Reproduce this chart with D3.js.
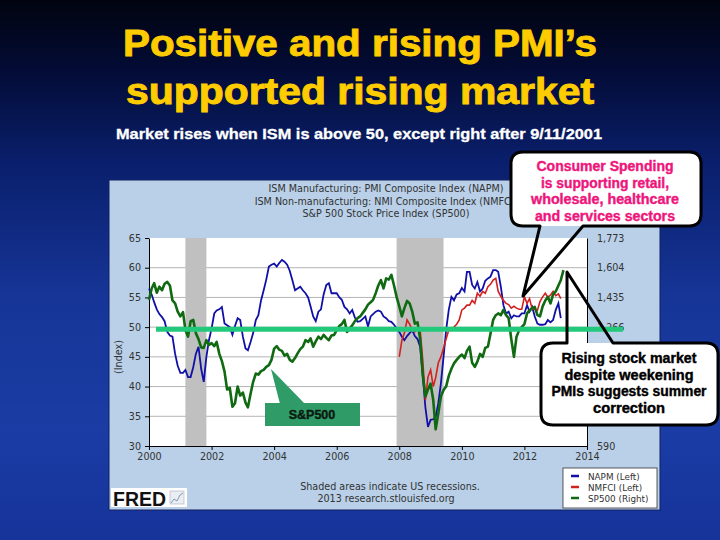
<!DOCTYPE html>
<html><head><meta charset="utf-8">
<script src="https://cdn.jsdelivr.net/npm/d3@7"></script>
<style>body{margin:0;background:#0a1a5a;} svg{display:block}</style>
</head><body><svg id="c" width="720" height="540"></svg>
<script>
// ---------------- DATA ----------------
const napmStart = [2000, 0];
const napm = [
 56.5,55.5,54.2,53.0,52.2,51.7,51.0,49.2,48.6,48.4,45.5,43.5,
 42.3,42.3,42.8,41.6,41.6,43.3,45.5,46.7,43.0,40.8,45.0,47.8,
 49.8,52.3,52.8,53.0,53.4,50.6,50.3,50.0,48.7,50.2,51.5,51.2,
 48.4,46.4,46.1,47.5,49.0,51.2,52.0,54.5,56.2,58.0,60.2,60.5,
 60.7,60.2,60.8,61.3,61.0,60.5,59.5,57.9,56.2,56.5,56.8,56.2,
 55.7,55.0,53.5,51.8,51.0,52.6,53.0,55.5,57.1,57.4,55.7,55.7,
 55.7,55.0,54.6,53.4,53.0,52.3,52.9,51.6,50.9,51.0,51.4,51.8,
 50.1,51.8,52.2,52.6,52.8,52.6,51.8,51.5,51.0,50.9,50.4,49.8,
 49.2,48.4,47.8,48.5,49.0,49.5,48.5,48.0,46.7,42.0,36.5,33.2,
 34.4,34.5,34.9,37.2,40.5,45.0,49.5,52.9,55.1,54.5,55.5,55.7,
 56.6,56.0,59.3,59.3,57.1,56.5,57.6,56.0,56.5,57.8,58.2,58.5,
 59.6,59.6,59.3,56.8,53.7,52.3,52.6,51.5,52.0,51.8,51.8,52.3,
 52.3,53.7,52.6,53.4,51.8,50.6,50.4,50.4,50.5,51.2,50.8,51.2,
 52.9,54.0,51.5
];
const nmfciStart = [2008, 0];
const nmfci = [
 45.0,47.8,49.0,51.2,50.5,49.5,49.2,49.8,49.5,44.5,37.7,41.6,
 42.8,40.0,41.5,44.0,45.0,46.5,48.0,49.5,49.8,50.0,50.5,51.2,
 52.9,53.2,53.7,53.7,54.5,54.0,55.7,55.2,56.0,55.7,56.8,57.2,
 57.9,58.2,56.0,55.2,54.5,54.0,53.8,53.2,53.5,53.2,53.0,53.0,
 55.1,54.0,54.8,53.0,53.0,52.8,54.3,55.1,55.7,55.0,55.4,56.0,
 55.3,55.6,54.8
];
const sp500Start = [2000, 0];
const sp500 = [
 1421,1486,1516,1462,1496,1476,1513,1523,1503,1418,1401,1354,
 1327,1351,1249,1212,1300,1307,1232,1198,1151,1148,1192,1165,
 1175,1158,1182,1114,1073,1013,911,921,813,833,928,877,
 894,837,810,887,955,1002,996,1016,1023,1040,1050,1080,
 1144,1158,1138,1131,1104,1114,1080,1070,1090,1117,1141,1155,
 1192,1182,1202,1155,1185,1212,1198,1222,1205,1192,1219,1222,
 1249,1273,1283,1307,1239,1259,1276,1300,1317,1327,1347,1367,
 1394,1408,1421,1459,1503,1533,1486,1543,1536,1563,1503,1438,
 1384,1327,1374,1415,1401,1354,1286,1293,1198,996,871,911,
 945,850,685,776,871,908,928,989,1029,1060,1080,1097,
 1110,1090,1131,1155,1063,1040,1070,1114,1097,1148,1155,1229,
 1307,1334,1344,1334,1364,1334,1317,1198,1097,1212,1249,1266,
 1283,1344,1361,1374,1381,1334,1327,1384,1418,1438,1401,1452,
 1469,1503,1533,1590
];
const recessions = [["2001-03-01","2001-11-01"],["2007-12-01","2009-06-01"]];
const leftTicks = [30,35,40,45,50,55,60,65];
const gridTicks = [35,40,45,50,55,60];
// right-axis labels visible in the reference (the others are hidden behind the callout)
const rightTicks = [590,1266,1435,1604,1773];
const yearTicks = [2000,2002,2004,2006,2008,2010,2012,2014];
const seriesNames = ["NAPM (Left)","NMFCI (Left)","SP500 (Right)"];
const seriesColors = ["#1010a8","#d42020","#0f6a12"];
const headerLines = ["ISM Manufacturing: PMI Composite Index (NAPM)",
  "ISM Non-manufacturing: NMI Composite Index (NMFCI)",
  "S&P 500 Stock Price Index (SP500)"];
const titleLines = ["Positive and rising PMI\u2019s","supported rising market"];
const subtitle = "Market rises when ISM is above 50, except right after 9/11/2001";
const callout1 = ["Consumer Spending","is supporting retail,","wholesale, healthcare","and services sectors"];
const callout2 = ["Rising stock market","despite  weekening","PMIs suggests summer","correction"];
const refLevel = 50;

// ---------------- DRAW ----------------
const svg = d3.select("#c");
const defs = svg.append("defs");
const bg = defs.append("linearGradient").attr("id","bg").attr("x1",0).attr("y1",0).attr("x2",0).attr("y2",1);
[[0,"#01040f"],[0.12,"#030b33"],[0.3,"#0a1f6c"],[0.55,"#163597"],[0.8,"#1a3ca4"],[1,"#16339a"]]
  .forEach(([o,c])=>bg.append("stop").attr("offset",o).attr("stop-color",c));
svg.append("rect").attr("width",720).attr("height",540).attr("fill","url(#bg)");

// title
svg.selectAll("text.title").data(titleLines).join("text")
  .attr("x",360).attr("y",(d,i)=>[56,104][i]).attr("text-anchor","middle")
  .attr("textLength",(d,i)=>[474,468][i]).attr("lengthAdjust","spacingAndGlyphs")
  .style("font-family","'Liberation Sans', Arial, sans-serif").style("font-weight","bold")
  .style("font-size","37px").attr("fill","#ffcc00").attr("stroke","#ffcc00").attr("stroke-width",0.9)
  .text(d=>d);
svg.append("text").attr("x",359).attr("y",139).attr("text-anchor","middle")
  .attr("textLength",486).attr("lengthAdjust","spacingAndGlyphs")
  .style("font-family","'Liberation Sans', Arial, sans-serif").style("font-weight","bold")
  .style("font-size","15px").attr("fill","#ffffff").attr("stroke","#ffffff").attr("stroke-width",0.3)
  .text(subtitle);

// chart panel
svg.append("rect").attr("x",109).attr("y",180).attr("width",551).attr("height",330)
  .attr("fill","#b9d0e8").attr("stroke","#102060").attr("stroke-width",1);

const x0 = 149, x1 = 587, yTop = 238, yBot = 446;
const x = d3.scaleTime().domain([new Date(2000,0,1), new Date(2014,0,1)]).range([x0,x1]);
const yL = d3.scaleLinear().domain([30,65]).range([yBot,yTop]);
const yR = d3.scaleLinear().domain([590,1773]).range([yBot,yTop]);

svg.append("rect").attr("x",x0).attr("y",yTop).attr("width",x1-x0).attr("height",yBot-yTop).attr("fill","#ffffff");

// gridlines
svg.append("g").selectAll("line").data(gridTicks).join("line")
  .attr("x1",x0).attr("x2",x1).attr("y1",d=>yL(d)).attr("y2",d=>yL(d))
  .attr("stroke","#b4b4b4").attr("stroke-width",1);

// recessions
svg.append("g").selectAll("rect").data(recessions).join("rect")
  .attr("x",d=>x(new Date(d[0]))).attr("width",d=>x(new Date(d[1]))-x(new Date(d[0])))
  .attr("y",yTop).attr("height",yBot-yTop).attr("fill","#c0c0c0");

// header
svg.selectAll("text.hdr").data(headerLines).join("text")
  .attr("x",386).attr("y",(d,i)=>192+i*12.5).attr("text-anchor","middle")
  .style("font-family","'DejaVu Sans', Verdana, sans-serif").style("font-size","9.6px")
  .attr("fill","#333").text(d=>d);

// axes
const fontAx = g => g.selectAll("text").style("font-family","'DejaVu Sans', Verdana, sans-serif")
  .style("font-size","9.6px").attr("fill","#333");
svg.append("g").attr("transform",`translate(${x0},0)`)
  .call(d3.axisLeft(yL).tickValues(leftTicks).tickSize(4).tickPadding(4).tickSizeOuter(0))
  .call(fontAx).call(g=>g.select(".domain").attr("stroke","#000"));
svg.append("g").attr("transform",`translate(0,${yBot})`)
  .call(d3.axisBottom(x).tickValues(yearTicks.map(y=>new Date(y,0,1))).tickFormat(d3.timeFormat("%Y"))
    .tickSize(4).tickPadding(3).tickSizeOuter(0))
  .call(fontAx).call(g=>g.select(".domain").attr("stroke","#000"));
svg.append("g").attr("transform",`translate(${x1},0)`)
  .call(d3.axisRight(yR).tickValues(rightTicks).tickFormat(d3.format(",")).tickSize(0).tickPadding(10).tickSizeOuter(0))
  .call(fontAx).call(g=>g.select(".domain").attr("stroke","#000"));
svg.append("text").attr("transform","translate(122,357) rotate(-90)").attr("text-anchor","middle")
  .style("font-family","'DejaVu Sans', Verdana, sans-serif").style("font-size","9.6px").attr("fill","#333").text("(Index)");

// series
const toPts = (arr,start) => arr.map((v,i)=>({d:new Date(start[0],start[1]+i,1),v}));
const lineL = d3.line().x(p=>x(p.d)).y(p=>yL(p.v));
const lineR = d3.line().x(p=>x(p.d)).y(p=>yR(p.v));
svg.append("path").datum(toPts(napm,napmStart)).attr("d",lineL).attr("fill","none")
  .attr("stroke",seriesColors[0]).attr("stroke-width",1.8);
svg.append("path").datum(toPts(nmfci,nmfciStart)).attr("d",lineL).attr("fill","none")
  .attr("stroke",seriesColors[1]).attr("stroke-width",1.6);
svg.append("path").datum(toPts(sp500,sp500Start)).attr("d",lineR).attr("fill","none")
  .attr("stroke",seriesColors[2]).attr("stroke-width",2.6).attr("stroke-linejoin","round");

// footer
svg.append("text").attr("x",390).attr("y",490).attr("text-anchor","middle")
  .style("font-family","'DejaVu Sans', Verdana, sans-serif").style("font-size","9.6px").attr("fill","#333")
  .text("Shaded areas indicate US recessions.");
svg.append("text").attr("x",386).attr("y",502).attr("text-anchor","middle")
  .style("font-family","'DejaVu Sans', Verdana, sans-serif").style("font-size","9.6px").attr("fill","#333")
  .text("2013 research.stlouisfed.org");

// FRED logo
svg.append("rect").attr("x",111).attr("y",488).attr("width",76).attr("height",19).attr("fill","#ffffff");
svg.append("text").attr("x",113).attr("y",505.5).attr("textLength",53).attr("lengthAdjust","spacingAndGlyphs")
  .style("font-family","'Liberation Sans', Arial, sans-serif").style("font-weight","bold").style("font-size","21px")
  .attr("fill","#111").text("FRED");
svg.append("rect").attr("x",170).attr("y",491).attr("width",14).attr("height",13).attr("fill","#e8eef4").attr("stroke","#aab").attr("stroke-width",0.6);
svg.append("path").attr("d","M171,503 L174,499 L177,501 L180,495 L183,493").attr("fill","none").attr("stroke","#8899aa").attr("stroke-width",1);

// legend
const lg = svg.append("g");
lg.append("rect").attr("x",563).attr("y",468).attr("width",94).attr("height",40).attr("fill","#ffffff").attr("stroke","#333").attr("stroke-width",0.8);
seriesNames.forEach((n,i)=>{
  const yy = 476 + i*11;
  lg.append("line").attr("x1",571).attr("x2",579).attr("y1",yy).attr("y2",yy).attr("stroke",seriesColors[i]).attr("stroke-width",2.5);
  lg.append("text").attr("x",588).attr("y",yy+3.5).style("font-family","'DejaVu Sans', Verdana, sans-serif")
    .style("font-size","8.8px").attr("fill","#333").text(n);
});

// reference line at 50
svg.append("line").attr("x1",156).attr("x2",623).attr("y1",yL(refLevel)+2).attr("y2",yL(refLevel)+2)
  .attr("stroke","#22c97a").attr("stroke-width",5);

// S&P500 label box
svg.append("path").attr("d","M280,404 L305,404 L271,369 Z").attr("fill","#2f9c68");
svg.append("rect").attr("x",265).attr("y",403).attr("width",95).attr("height",23).attr("fill","#2f9c68");
svg.append("text").attr("x",312).attr("y",418.5).attr("text-anchor","middle")
  .style("font-family","'Liberation Sans', Arial, sans-serif").style("font-weight","bold").style("font-size","12.5px")
  .attr("fill","#0a1a10").attr("stroke","#0a1a10").attr("stroke-width",0.4).text("S&P500");

// callout 1
svg.append("rect").attr("x",511).attr("y",152).attr("width",190).attr("height",74).attr("rx",12).attr("fill","#ffffff");
svg.append("path").attr("d","M540,226 L523,296 L583,226 L689,226 Q701,226 701,214 L701,164 Q701,152 689,152 L523,152 Q511,152 511,164 L511,214 Q511,226 523,226 Z")
  .attr("fill","none").attr("stroke","#000").attr("stroke-width",3).attr("stroke-linejoin","round");
svg.selectAll("text.c1").data(callout1).join("text")
  .attr("x",605).attr("y",(d,i)=>171+i*16.5).attr("text-anchor","middle")
  .attr("textLength",(d,i)=>[137,128,148,140][i]).attr("lengthAdjust","spacingAndGlyphs")
  .style("font-family","'Liberation Sans', Arial, sans-serif").style("font-weight","bold").style("font-size","14px")
  .attr("fill","#ee167c").attr("stroke","#ee167c").attr("stroke-width",0.4).text(d=>d);

// callout 2
svg.append("rect").attr("x",541).attr("y",343).attr("width",177).attr("height",82).attr("rx",12).attr("fill","#ffffff");
svg.append("path").attr("d","M567,343 L567,272 L613,343 L706,343 Q718,343 718,355 L718,413 Q718,425 706,425 L553,425 Q541,425 541,413 L541,355 Q541,343 553,343 Z")
  .attr("fill","none").attr("stroke","#000").attr("stroke-width",3).attr("stroke-linejoin","round");
svg.selectAll("text.c2").data(callout2).join("text")
  .attr("x",629).attr("y",(d,i)=>363+i*16.5).attr("text-anchor","middle")
  .attr("textLength",(d,i)=>[135,129,155,72][i]).attr("lengthAdjust","spacingAndGlyphs")
  .style("font-family","'Liberation Sans', Arial, sans-serif").style("font-weight","bold").style("font-size","14px")
  .attr("fill","#000").attr("stroke","#000").attr("stroke-width",0.4).text(d=>d);
</script></body></html>
